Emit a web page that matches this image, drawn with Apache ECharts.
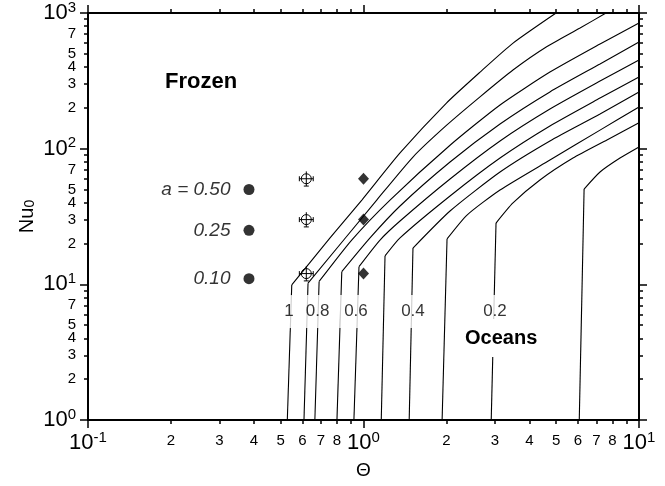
<!DOCTYPE html>
<html>
<head>
<meta charset="utf-8">
<script src="https://cdn.jsdelivr.net/npm/echarts@6/dist/echarts.min.js"></script>
<style>
  html, body { margin: 0; padding: 0; background: #fff; }
  #chart { width: 665px; height: 486px; }
</style>
</head>
<body>
<div id="chart"></div>
<script>
// contour curves, points are [Theta, Nu0]; second point is the knee
const contour10 = [[0.529, 1], [0.549, 9.9], [0.756, 22], [0.988, 42], [1.357, 93], [2.0, 217], [2.65, 367], [3.49, 600], [5.0, 1000]];
const contour09 = [[0.608, 1], [0.629, 10.2], [1.117, 41.8], [1.512, 86.8], [2.004, 149], [2.648, 241], [3.488, 380], [4.62, 564], [6.11, 775], [7.59, 1000]];
const contour08 = [[0.666, 1], [0.690, 10.5], [0.906, 21.2], [1.248, 41.8], [2.061, 106], [3.13, 210], [4.75, 367], [7.22, 591], [10, 844]];
const contour07 = [[0.801, 1], [0.834, 12.4], [1.056, 22], [1.357, 37.8], [2.061, 79.7], [3.13, 152], [4.75, 262], [7.22, 421], [10, 611]];
const contour06 = [[0.923, 1], [0.963, 13.5], [1.148, 21.2], [1.357, 29.3], [2.061, 59.8], [3.13, 114], [4.75, 196], [7.22, 315], [10, 450]];
const contour05 = [[1.16, 1], [1.197, 16.2], [1.357, 22], [2.061, 44.8], [3.13, 85.3], [4.75, 147], [7.22, 236], [10, 338]];
const contour04 = [[1.465, 1], [1.512, 18.5], [2.061, 34.7], [3.13, 67.3], [4.75, 114], [7.22, 180], [10, 262]];
const contour03 = [[1.929, 1], [2.01, 21.6], [2.375, 32.4], [3.13, 49.6], [4.75, 82.5], [7.22, 137], [10, 203]];
const contour02 = [[2.908, 1], [3.027, 28.3], [3.488, 39.8], [4.37, 58.8], [5.76, 85.3], [7.65, 116], [10, 155]];
const contour01 = [[6.07, 1], [6.32, 50.4], [7.22, 67.3], [8.53, 85.3], [10, 103]];
const contours = [contour10, contour09, contour08, contour07, contour06, contour05, contour04, contour03, contour02, contour01];

// contour labels
const labelText = ['1', '0.8', '0.6', '0.4', '0.2'];
const labelTheta = [0.536, 0.681, 0.939, 1.512, 3.0];
const labelNu = 6.3;

// filled circles (a values)
const thetaA = 0.384;
const nuA = [50, 25, 11];
const aText = ['a = 0.50', '0.25', '0.10'];

// open circles with error bars
const thetaB = 0.62;
const nuB = [60, 30, 12];
const thetaBLo = 0.585;
const thetaBHi = 0.657;
const nuBLo = [53, 26.5, 10.6];
const nuBHi = [68, 34, 13.6];

// diamonds
const thetaC = 1.0;
const nuC = [60, 30, 12];

// ticks
const xMajor = [0.1, 1, 10];
const xMinor = [0.2, 0.3, 0.4, 0.5, 0.6, 0.7, 0.8, 0.9, 2, 3, 4, 5, 6, 7, 8, 9];
const xLabels = [0.1, 0.2, 0.3, 0.4, 0.5, 0.6, 0.7, 0.8, 1, 2, 3, 4, 5, 6, 7, 8, 10];
const yMajor = [1, 10, 100, 1000];
const yMinor = [2, 3, 4, 5, 6, 7, 8, 9, 20, 30, 40, 50, 60, 70, 80, 90, 200, 300, 400, 500, 600, 700, 800, 900];
const yLabels = [1, 2, 3, 4, 5, 7, 10, 20, 30, 40, 50, 70, 100, 200, 300, 400, 500, 700, 1000];

const FONT = '"Liberation Sans", Arial, Helvetica, sans-serif';
const lg = Math.log10;

function tickLabel(v) {
  const e = Math.round(v);
  if (Math.abs(v - e) < 1e-6) return '{b|10}{s|' + e + '}';
  const d = Math.round(Math.pow(10, v - Math.floor(v + 1e-9)));
  return '{m|' + d + '}';
}

const tickLine = { color: '#000', width: 1.5 };

function richFor(mLineHeight) {
  return {
    b: { fontSize: 22, lineHeight: 26, fontFamily: FONT, color: '#000' },
    s: { fontSize: 15, lineHeight: 15, verticalAlign: 'top', fontFamily: FONT, color: '#000' },
    m: { fontSize: 15, lineHeight: mLineHeight, fontFamily: FONT, color: '#000' }
  };
}

function tickAxis(pos, min, max, values, len, withLine) {
  return {
    type: 'value', position: pos, min: min, max: max,
    axisLine: { show: withLine, onZero: false, lineStyle: { color: '#000', width: 2 } },
    axisTick: { show: true, customValues: values.map(lg), length: len, lineStyle: tickLine },
    axisLabel: { show: false },
    splitLine: { show: false }
  };
}

const xMain = tickAxis('bottom', -1, 1, xMajor, 8, true);
xMain.axisLabel = {
  show: true, customValues: xLabels.map(lg), formatter: tickLabel, color: '#000',
  margin: 10, hideOverlap: false, rich: richFor(22)
};
xMain.name = 'Θ';
xMain.nameLocation = 'middle';
xMain.nameGap = 41;
xMain.nameMoveOverlap = false;
xMain.nameTextStyle = { fontSize: 19, color: '#000', fontFamily: FONT };

const yMain = tickAxis('left', 0, 3, yMajor, 8, true);
yMain.axisLabel = {
  show: true, customValues: yLabels.map(lg), formatter: tickLabel, color: '#000',
  margin: 12, hideOverlap: false, rich: richFor(15)
};
yMain.name = 'Nu{sub|0}';
yMain.nameLocation = 'middle';
yMain.nameGap = 51;
yMain.nameRotate = 90;
yMain.nameMoveOverlap = false;
yMain.nameTextStyle = {
  fontSize: 20, color: '#000', fontFamily: FONT,
  rich: { sub: { fontSize: 14, verticalAlign: 'bottom', lineHeight: 14, fontFamily: FONT, color: '#000' } }
};

// each contour: straight lower part up to the knee, gently smoothed upper part
const contourSeries = [];
contours.forEach(function (pts) {
  const toXY = function (p) { return [lg(p[0]), lg(p[1])]; };
  contourSeries.push({
    type: 'line', data: pts.slice(0, 2).map(toXY),
    showSymbol: false, symbol: 'none',
    lineStyle: { color: '#000', width: 1.1 }, silent: true, z: 2
  });
  contourSeries.push({
    type: 'line', data: pts.slice(1).map(toXY),
    showSymbol: false, symbol: 'none', smooth: 0.2,
    lineStyle: { color: '#000', width: 1.1 }, silent: true, z: 2
  });
});

const chart = echarts.init(document.getElementById('chart'));
chart.setOption({
  animation: false,
  backgroundColor: '#fff',
  textStyle: { fontFamily: FONT },
  grid: { left: 88, right: 26, top: 13, bottom: 66, containLabel: false, outerBoundsMode: 'none' },
  xAxis: [
    xMain,
    tickAxis('bottom', -1, 1, xMinor, 4, false),
    tickAxis('top', -1, 1, xMajor, 8, true),
    tickAxis('top', -1, 1, xMinor, 4, false)
  ],
  yAxis: [
    yMain,
    tickAxis('left', 0, 3, yMinor, 4, false),
    tickAxis('right', 0, 3, yMajor, 8, true),
    tickAxis('right', 0, 3, yMinor, 4, false)
  ],
  series: contourSeries.concat([
    {
      type: 'scatter',
      data: labelTheta.map(function (t, i) {
        return { value: [lg(t), lg(labelNu)], label: { formatter: labelText[i] } };
      }),
      symbolSize: 1,
      itemStyle: { color: 'rgba(0,0,0,0)' },
      label: {
        show: true, position: 'inside', color: '#000', fontSize: 17, fontFamily: FONT,
        backgroundColor: '#fff', padding: [8, 5]
      },
      silent: true, z: 5
    },
    {
      type: 'scatter',
      data: nuA.map(function (n) { return [lg(thetaA), lg(n)]; }),
      symbol: 'circle', symbolSize: 11,
      itemStyle: { color: '#000' },
      label: {
        show: true, position: 'left', distance: 13,
        formatter: function (p) { return aText[p.dataIndex]; },
        color: '#000', fontSize: 19, fontStyle: 'italic', fontFamily: FONT
      },
      z: 4
    },
    {
      type: 'scatter',
      data: nuC.map(function (n) { return [lg(thetaC), lg(n)]; }),
      symbol: 'diamond', symbolSize: [11, 12],
      itemStyle: { color: '#000' },
      z: 4
    },
    {
      type: 'custom',
      data: nuB.map(function (n, i) {
        return [lg(thetaB), lg(n), lg(thetaBLo), lg(thetaBHi), lg(nuBLo[i]), lg(nuBHi[i])];
      }),
      renderItem: function (params, api) {
        const c = api.coord([api.value(0), api.value(1)]);
        const l = api.coord([api.value(2), api.value(1)]);
        const r = api.coord([api.value(3), api.value(1)]);
        const lo = api.coord([api.value(0), api.value(4)]);
        const hi = api.coord([api.value(0), api.value(5)]);
        const st = { stroke: '#000', lineWidth: 1, fill: null };
        return {
          type: 'group',
          children: [
            { type: 'circle', shape: { cx: c[0], cy: c[1], r: 5 }, style: { stroke: '#000', lineWidth: 1, fill: 'none' } },
            { type: 'line', shape: { x1: l[0], y1: c[1], x2: r[0], y2: c[1] }, style: st },
            { type: 'line', shape: { x1: l[0], y1: c[1] - 2.5, x2: l[0], y2: c[1] + 2.5 }, style: st },
            { type: 'line', shape: { x1: r[0], y1: c[1] - 2.5, x2: r[0], y2: c[1] + 2.5 }, style: st },
            { type: 'line', shape: { x1: c[0], y1: hi[1], x2: c[0], y2: lo[1] }, style: st },
            { type: 'line', shape: { x1: c[0] - 2.5, y1: lo[1], x2: c[0] + 2.5, y2: lo[1] }, style: st }
          ]
        };
      },
      z: 4
    }
  ]),
  graphic: [
    {
      type: 'text', left: 165, top: 71, z: 100,
      style: { text: 'Frozen', font: 'bold 22px ' + FONT, fill: '#000' }
    },
    {
      type: 'text', left: 462, top: 319, z: 100,
      style: {
        text: 'Oceans', font: 'bold 20px ' + FONT, fill: '#000',
        backgroundColor: '#fff', padding: [9, 3, 9, 3]
      }
    }
  ]
});
</script>
</body>
</html>
